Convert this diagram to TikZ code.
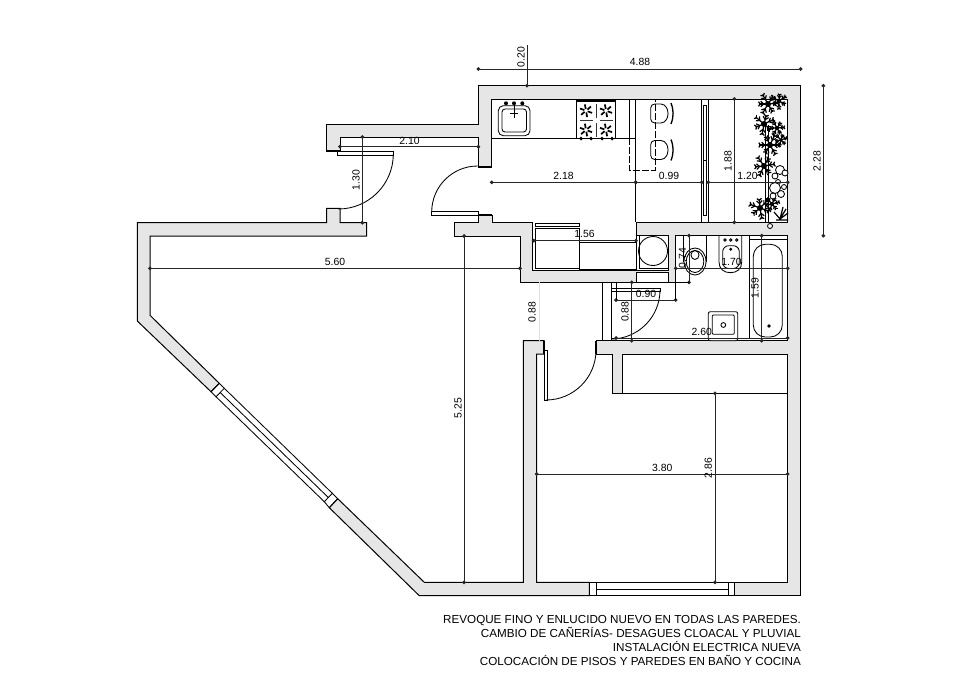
\documentclass[tikz,border=0pt]{standalone}
\usepackage{fontspec}
\setmainfont{Liberation Sans}
\usetikzlibrary{arrows.meta}
\definecolor{wallgray}{HTML}{E6E6E6}
\tikzset{
  wall/.style={fill=wallgray,draw=black,line width=1pt,line join=miter},
  fitting/.style={draw=black,line width=.85pt,fill=white},
  thin line/.style={draw=black,line width=.85pt},
  dimline/.style={{Circle[length=3.6pt]}-{Circle[length=3.6pt]},shorten <=-1.8pt,shorten >=-1.8pt,line width=1pt,draw=black!85},
  dimlabel/.style={font=\fontsize{10.4}{11}\selectfont,text=black,inner sep=0pt},
  dimlabelv/.style={dimlabel,rotate=90}
}
\newcommand{\leafclump}[4]{%
  \begin{scope}[shift={(#1,#2)},rotate=#3,line width=1.2pt,scale=#4]
    \foreach \a/\r in {5/11,70/9,130/11,190/9,250/11,315/9}{
      \draw (0,0) -- (\a:\r);
      \draw (\a:\r*0.5) -- ++(\a+45:4);
      \draw (\a:\r*0.5) -- ++(\a-45:4);
      \draw (\a:\r*0.85) -- ++(\a+50:3);
      \draw (\a:\r*0.85) -- ++(\a-50:3);
    }
    \fill (0,0) circle (3);
  \end{scope}}
\newcommand{\burner}[2]{%
  \foreach \a in {20,80,...,320}{
    \draw[line width=1.7pt] ([shift={(\a:1.8)}]#1,#2) -- ([shift={(\a:6.4)}]#1,#2);
  }}
\newcommand{\kitchenchair}[1]{%
  \draw[thin line,rounded corners=4pt] (650.7,#1-9.5) -- (665,#1-9.5) -- (669,#1) -- (665,#1+9.5) -- (650.7,#1+9.5) -- cycle;
  \draw[line width=1.3pt] (671,#1-10.5) .. controls (673.8,#1-3) and (673.8,#1+3) .. (671,#1+10.5);}
\begin{document}
\begin{tikzpicture}[x=1pt,y=-1pt]
\useasboundingbox (0,0) rectangle (980,680);

% walls
\path[wall] (326.7,151) -- (326.7,124) -- (478.3,124) -- (478.3,85.7) -- (800.7,85.7)
  -- (800.7,595.7) -- (734.3,595.7) -- (734.3,582.3) -- (787.7,582.3) -- (787.7,354)
  -- (622.3,354) -- (622.3,393.3) -- (612.7,393.3) -- (612.7,354) -- (596,354)
  -- (596,340.7) -- (787.7,340.7) -- (787.7,235.7) -- (675.7,235.7) -- (675.7,282.3)
  -- (520,282.3) -- (520,236) -- (454,236) -- (454,222.7) -- (478.3,222.7) -- (478.3,215)
  -- (492,215) -- (492,222.7) -- (532.7,222.7) -- (532.7,270) -- (636,270) -- (636,222.3)
  -- (787.7,222.3) -- (787.7,99) -- (491.7,99) -- (491.7,166.7) -- (478.3,166.7)
  -- (478.3,137) -- (340,137) -- (340,151) -- cycle;
\path[wall] (326.7,222.7) -- (326.7,208.3) -- (340,208.3) -- (340,222.7) -- (366.7,222.7)
  -- (366.7,236) -- (150,236) -- (150,315.3) -- (219.3,383.3) -- (211,391.7)
  -- (137.3,321) -- (137.3,222.7) -- cycle;
\path[wall] (337.7,498.7) -- (424.3,582.3) -- (523.3,582.3) -- (523.3,340.7) -- (544,340.7)
  -- (544,354) -- (536.7,354) -- (536.7,582.3) -- (589.3,582.3) -- (589.3,595.7)
  -- (419.3,595.7) -- (329.3,507.7) -- cycle;
\draw[line width=1.6pt] (326.7,151) -- (340,151) (326.7,208.3) -- (340,208.3)
  (478.3,166.7) -- (492,166.7) (478.3,215) -- (492,215) (596,341) -- (596,354) (544,341) -- (544,354);

% windows
\draw[thin line] (211,391.7) -- (219.3,383.3) -- (224.3,388.3) -- (216,396.7) -- cycle;
\draw[thin line] (324.3,501.7) -- (332.3,493.3) -- (337.7,498.7) -- (329.3,507.7) -- cycle;
\draw[thin line] (224.3,388.3) -- (332.3,493.3);
\draw[thin line] (216,396.7) -- (324.3,501.7);
\draw[thin line] (220.2,392.5) -- (328.3,497.5);
\draw[thin line] (589.3,582.3) rectangle (596.7,595.7);
\draw[thin line] (728.3,582.3) rectangle (734.3,595.7);
\draw[thin line] (596.7,582.3) -- (728.3,582.3) (596.7,595.7) -- (728.3,595.7) (596.7,589) -- (728.3,589);

% doors
\draw[thin line] (337.7,151.7) rectangle (393.3,155);
\draw[thin line] (393.3,154) arc[start angle=0,end angle=90,radius=55];
\draw[thin line] (431.7,211.7) rectangle (478.3,215);
\draw[thin line] (431.7,212) arc[start angle=180,end angle=270,radius=46];
\draw[thin line] (544.3,350) rectangle (547.7,400);
\draw[thin line] (546,400) arc[start angle=90,end angle=0,radius=50];
\draw[thin line] (611.7,288.3) rectangle (660,291);
\draw[thin line] (660,290) arc[start angle=0,end angle=90,radius=49];
\draw[thin line] (602.7,282.3) -- (602.7,340.7) (611.7,282.3) -- (611.7,340.7);

% kitchen
\draw[thin line] (491.7,138.3) -- (635.7,138.3);
\draw[thin line] (635.7,99) -- (635.7,222.3);
\draw[thin line] (629,99) -- (629,138.3);
\draw[thin line,dashed,dash pattern=on 7pt off 2pt] (629,138.3) -- (629,170) -- (655.7,170) -- (655.7,99);
\draw[thin line,rounded corners=5pt] (498.3,105.7) rectangle (530,135.7);
\draw[thin line,rounded corners=3pt] (502,109) rectangle (526.5,132);
\foreach \x in {506,514,522.3}{\fill (\x,103.3) circle (2);}
\draw[thin line] (514,103.3) -- (514,118) (510,113) -- (518,113);
\draw[thin line] (576.7,99) rectangle (615.7,138.3);
\fill (576.7,99) rectangle (615.7,101.5);
\burner{586}{110.7}
\burner{606}{110.7}
\burner{586}{130}
\burner{606}{130}
\draw[line width=1.4pt,black!80] (596.5,104) -- (596.5,118) (596.5,123) -- (596.5,137)
  (580,120.5) -- (593,120.5) (600,120.5) -- (613,120.5);
\foreach \x in {581,591,602,612}{\fill (\x,138.6) circle (1.9);}
\kitchenchair{113.5}
\kitchenchair{150}
\draw[thin line] (701.7,99) rectangle (708.3,222.3);
\draw[thin line] (703.5,105.7) rectangle (706.5,160.7);
\draw[thin line] (703.5,160.7) rectangle (706.5,215.7);

% plants
\draw[line width=1pt] (765,125) -- (765,222) (768,125) -- (768,222);
\leafclump{768}{104}{10}{1}
\leafclump{779}{101}{40}{.75}
\leafclump{764}{124}{30}{1}
\leafclump{777}{128}{10}{.7}
\leafclump{770}{145}{70}{1}
\leafclump{781}{140}{25}{.6}
\leafclump{764}{166}{15}{1}
\leafclump{760}{208}{50}{1}
\leafclump{772}{204}{20}{.7}
\draw[line width=1.2pt] (780,219) -- (786,209) (780,219) -- (788,213) (780,219) -- (783,207)
  (780,219) -- (774,212) (776,220) -- (788,220);
\foreach \x/\y/\r in {780/170/4.5,785/173/3,775/176/3,778/182/2.5,775/188/5.5,781/194/3.5,773/196/3,784/187/2.5,770/226/2.5}{
  \draw[fitting] (\x,\y) circle (\r);
}

% kitchen unit and laundry
\draw[thin line] (535,228) rectangle (579.3,268.3);
\draw[thin line] (535,223) rectangle (579.3,226.7);
\draw[thin line] (579.3,242.7) rectangle (636,269.3);
\draw[fitting] (636,235.7) rectangle (668.3,270);
\draw[fitting] (639.3,235.7) rectangle (668.3,268);
\draw[thin line] (653,251) circle (14.5);
\draw[fitting] (636,272) rectangle (668.3,282.3);

% bathroom
\draw[thin line] (611.7,338) -- (787.7,338);
\draw[thin line] (749,235.7) -- (749,338);
\draw[thin line] (749,239) -- (787.7,239);
\draw[thin line,rounded corners=12pt] (753.3,244.3) -- (782.3,244.3) -- (782.3,337) -- (753.3,337) -- cycle;
\fill (769,326) circle (1.8);
\draw[thin line] (719,235.7) -- (719,262) .. controls (719,269) and (724,272.7) .. (730.4,272.7)
  .. controls (737,272.7) and (741.7,269) .. (741.7,262) -- (741.7,235.7);
\draw[thin line,rounded corners=6pt] (722.7,245.7) rectangle (739.3,268.5);
\foreach \x in {725,730.7,736.7}{\draw[thin line] (\x,240) circle (1.2);}
\fill (730.7,249.3) circle (1.6);
\draw[thin line] (683.3,235.7) -- (683.3,262) (706.7,235.7) -- (706.7,262);
\draw[fitting] (695,261.5) ellipse (11 and 13.5);
\draw[thin line] (695,261.5) ellipse (8.8 and 11);
\draw[thin line] (695,255) ellipse (4 and 4.5);
\draw[fitting,rounded corners=2pt] (708.3,311.7) rectangle (737.7,340.7);
\draw[thin line,rounded corners=1pt] (712.3,315) rectangle (734.3,334.3);
\draw[thin line] (723.3,325) circle (2.4);

% closet
\draw[thin line] (622.3,393.3) -- (787.7,393.3);

% dimensions
\draw[dimline] (478.3,69) -- (800.7,69);
\draw[line width=1pt,draw=black!85,-{Circle[length=3.6pt]},shorten >=-1.8pt] (527,45) -- (527,85.7);
\draw[dimline] (823.3,85.7) -- (823.3,235.7);
\draw[dimline] (491.7,182.3) -- (635.7,182.3);
\draw[dimline] (635.7,182.3) -- (701.7,182.3);
\draw[dimline] (708.3,182.3) -- (787.7,182.3);
\draw[dimline] (734.3,99) -- (734.3,222.3);
\draw[dimline] (362.3,137) -- (362.3,222.7);
\draw[dimline] (340,146.7) -- (478.3,146.7);
\draw[dimline] (150,268.3) -- (520,268.3);
\draw[dimline] (464,236) -- (464,582.3);
\draw[dimline] (533.7,240.7) -- (636,240.7);
\draw[dimline] (616,300) -- (675.7,300);
\draw[thin line] (616,282.3) -- (616,300) (675.7,282.3) -- (675.7,300);
\draw[dimline] (631.7,282.3) -- (631.7,340.7);
\draw[dimline] (689,235.7) -- (689,282.3);
\draw[thin line] (675.7,282.3) -- (689,282.3);
\draw[dimline] (675.7,268.3) -- (787.7,268.3);
\draw[dimline] (761.7,235.7) -- (761.7,340.7);
\draw[dimline] (616,338) -- (787.7,338);
\draw[dimline] (536.7,474) -- (787.7,474);
\draw[dimline] (715,393.3) -- (715,582.3);
\draw[line width=.4pt,draw=black!12] (538.7,282.3) -- (538.7,340.7);

\node[dimlabel] (d488) at (640,62) {4.88};
\node[dimlabelv] (d020) at (521,57) {0.20};
\node[dimlabelv] (d228) at (817,161) {2.28};
\node[dimlabel] (d218) at (563.5,176) {2.18};
\node[dimlabel] (d099) at (669,176) {0.99};
\node[dimlabel] (d120) at (747.5,176) {1.20};
\node[dimlabelv] (d188) at (728,161) {1.88};
\node[dimlabel] (d210) at (409.5,141) {2.10};
\node[dimlabelv] (d130) at (356,180) {1.30};
\node[dimlabel] (d560) at (335,262) {5.60};
\node[dimlabel] (d156) at (584.5,234) {1.56};
\node[dimlabelv] (d525) at (458,408) {5.25};
\node[dimlabelv] (d088a) at (532,312) {0.88};
\node[dimlabelv] (d088b) at (625,311.7) {0.88};
\node[dimlabel] (d090) at (646,293.5) {0.90};
\node[dimlabelv] (d074) at (682.5,258) {0.74};
\node[dimlabel] (d170) at (731.5,261.5) {1.70};
\node[dimlabelv] (d159) at (755,288) {1.59};
\node[dimlabel] (d260) at (701.7,331.5) {2.60};
\node[dimlabel] (d380) at (662.3,467.5) {3.80};
\node[dimlabelv] (d286) at (708.3,468.3) {2.86};

% notes
\node[anchor=north east,align=right,inner sep=0pt,font=\fontsize{11.65}{14}\selectfont] (notes) at (801,615.3)
  {REVOQUE FINO Y ENLUCIDO NUEVO EN TODAS LAS PAREDES.\\
   CAMBIO DE CAÑERÍAS- DESAGUES CLOACAL Y PLUVIAL\\
   INSTALACIÓN ELECTRICA NUEVA\\
   COLOCACIÓN DE PISOS Y PAREDES EN BAÑO Y COCINA};
\end{tikzpicture}
\end{document}
